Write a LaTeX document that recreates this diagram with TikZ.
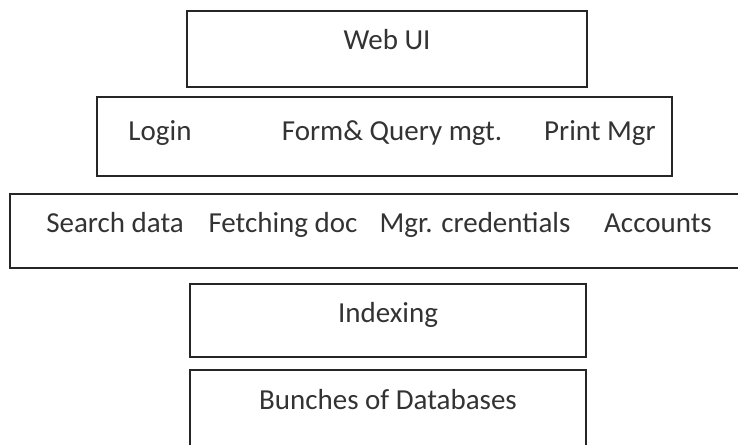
\documentclass[tikz,border=0pt]{standalone}
\usepackage{fontspec}
\setmainfont{Carlito}
\usetikzlibrary{positioning}
\begin{document}
\begin{tikzpicture}[x=1pt,y=-1pt,
  layer/.style={draw=black!85,line width=2.5pt,inner sep=0pt},
  lbl/.style={font=\fontsize{29}{34}\selectfont,text=black!80,inner sep=0pt,anchor=base}]
\useasboundingbox (0,0) rectangle (738,444);
\clip (0,0) rectangle (738,444);
% layers
\node[layer,minimum width=400,minimum height=76] (webui) at (387,49) {};
\node[layer,minimum width=575,minimum height=79] (app) at (384.5,136.5) {};
\node[layer,minimum width=750,minimum height=74] (svc) at (385,231) {};
\node[layer,minimum width=396,minimum height=73] (idx) at (388,320.5) {};
\node[layer,minimum width=396,minimum height=100] (db) at (388,420) {};
% labels
\node[lbl] (webuitxt) at (387,49) {Web UI};
\node[lbl] (login) at (160,140) {Login};
\node[lbl] (form) at (392,140) {Form\& Query mgt.};
\node[lbl] (print) at (600,140) {Print Mgr};
\node[lbl] (search) at (115,232) {Search data};
\node[lbl] (fetch) at (283,232) {Fetching doc};
\node[lbl] (cred) at (475,232) {Mgr. credentials};
\node[lbl] (acc) at (658,232) {Accounts};
\node[lbl] (idxtxt) at (388,322) {Indexing};
\node[lbl] (dbtxt) at (388,409) {Bunches of Databases};
\end{tikzpicture}
\end{document}
